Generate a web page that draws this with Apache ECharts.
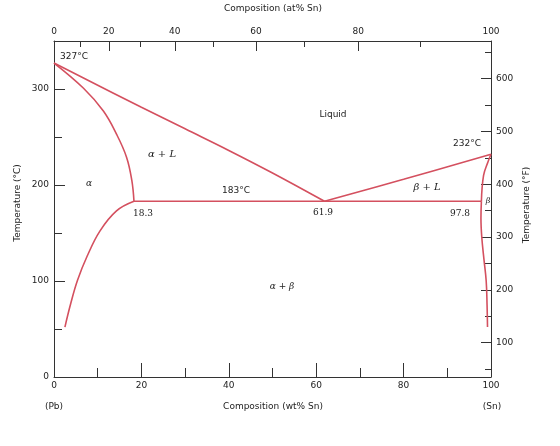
<!DOCTYPE html>
<html>
<head>
<meta charset="utf-8">
<script src="https://cdn.jsdelivr.net/npm/echarts@6/dist/echarts.min.js"></script>
<style>
html,body{margin:0;padding:0;background:#fff}
#chart{width:560px;height:446px}
</style>
</head>
<body>
<div id="chart"></div>
<script>
// 各条相线: [wt% Sn, °C]
const liquidusPb = [[0,327],[20,281],[30,258.5],[40,236],[50,212.5],[61.9,183]]
const liquidusSn = [[61.9,183],[80,206],[100,232]]
const solidusAlpha = [[0,327],[6.7,301],[11.3,277],[14.3,253],[16.6,229],[17.8,205],[18.3,183]]
const solvusAlpha = [[18.3,183],[14.3,173],[10.5,152],[7.6,126],[5.4,101],[3.8,76],[2.5,52]]
const eutectic = [[18.3,183],[61.9,183],[97.8,183]]
const solidusBeta = [[100,232],[99.3,224],[98.3,210],[97.8,183]]
const solvusBeta = [[97.8,183],[97.7,165],[97.9,145],[98.4,122],[98.9,100],[99.1,75],[99.2,52]]

// 刻度
const cTicks = [0,100,200,300]
const cMinorTicks = [50,150,250]
const fTicks = [100,200,300,400,500,600]
const fMinorTicks = [50,150,250,350,450,550,650]
const atTicks = [0,20,40,60,80,100]
const atMinorTicks = [10,30,50,70,90]

const MSn = 118.71, MPb = 207.2
const atToWt = a => 100 * a * MSn / (a * MSn + (100 - a) * MPb)
const wtToAt = w => 100 * (w / MSn) / (w / MSn + (100 - w) / MPb)

const FONT = 'DejaVu Sans'
const AX = '#333'
const RED = '#d4505f'

const gridBox = {left:54, top:41, right:69, bottom:69}
const lbl = {color:'#222', fontSize:9, fontFamily:FONT}

function line(data){
  return {
    type:'line', data, xAxisIndex:0, yAxisIndex:0,
    showSymbol:false, smooth:0.4, silent:true,
    lineStyle:{color:RED, width:1.6}
  }
}
function text(x, y, t, opt){
  return {type:'text', x, y, silent:true, style:Object.assign({
    text:t, fill:'#222', font:'9px "DejaVu Sans"', textVerticalAlign:'middle'
  }, opt || {})}
}

let myChart = echarts.init(document.getElementById('chart'))
myChart.setOption({
  animation:false,
  grid:[gridBox, gridBox, gridBox],
  xAxis:[
    {
      gridIndex:0, type:'value', position:'bottom', min:0, max:100, interval:20,
      axisLine:{onZero:false, lineStyle:{color:AX, width:1}},
      axisTick:{inside:true, length:14, lineStyle:{color:AX}},
      minorTick:{show:true, splitNumber:2, length:9, lineStyle:{color:AX}},
      axisLabel:Object.assign({margin:4}, lbl),
      splitLine:{show:false}
    },
    {
      gridIndex:1, type:'value', position:'top', min:0, max:100,
      axisLine:{onZero:false, lineStyle:{color:AX, width:1}},
      axisTick:{inside:true, length:10, customValues:atTicks.map(atToWt), lineStyle:{color:AX}},
      axisLabel:Object.assign({margin:5, customValues:atTicks.map(atToWt),
        formatter:v => String(Math.round(wtToAt(v)))}, lbl),
      splitLine:{show:false}
    },
    {
      gridIndex:2, type:'value', position:'top', min:0, max:100,
      axisLine:{show:false, onZero:false},
      axisTick:{inside:true, length:6, customValues:atMinorTicks.map(atToWt), lineStyle:{color:AX}},
      axisLabel:{show:false},
      splitLine:{show:false}
    }
  ],
  yAxis:[
    {
      gridIndex:0, type:'value', position:'left', min:0, max:350,
      axisLine:{show:true, onZero:false, lineStyle:{color:AX, width:1}},
      axisTick:{show:true, inside:true, length:11, customValues:cTicks, lineStyle:{color:AX}},
      axisLabel:Object.assign({margin:5, customValues:cTicks}, lbl),
      splitLine:{show:false}
    },
    {
      gridIndex:1, type:'value', position:'right', min:35, max:671,
      axisLine:{show:true, onZero:false, lineStyle:{color:AX, width:1}},
      axisTick:{show:true, inside:true, length:10, customValues:fTicks, lineStyle:{color:AX}},
      axisLabel:Object.assign({margin:5, customValues:fTicks}, lbl),
      splitLine:{show:false}
    },
    {
      gridIndex:1, type:'value', position:'left', min:0, max:350,
      axisLine:{show:false, onZero:false},
      axisTick:{show:true, inside:true, length:8, customValues:cMinorTicks, lineStyle:{color:AX}},
      axisLabel:{show:false},
      splitLine:{show:false}
    },
    {
      gridIndex:2, type:'value', position:'right', min:35, max:671,
      axisLine:{show:false, onZero:false},
      axisTick:{show:true, inside:true, length:6, customValues:fMinorTicks, lineStyle:{color:AX}},
      axisLabel:{show:false},
      splitLine:{show:false}
    }
  ],
  series:[
    line(liquidusPb),
    line(liquidusSn),
    line(solidusAlpha),
    line(solvusAlpha),
    Object.assign(line(eutectic), {smooth:false}),
    line(solidusBeta),
    line(solvusBeta)
  ],
  graphic:[
    text(273, 9, 'Composition (at% Sn)', {textAlign:'center'}),
    text(273, 407, 'Composition (wt% Sn)', {textAlign:'center'}),
    text(54, 407, '(Pb)', {textAlign:'center'}),
    text(492, 407, '(Sn)', {textAlign:'center'}),
    {type:'text', x:18, y:203, rotation:Math.PI/2, silent:true,
      style:{text:'Temperature (°C)', fill:'#222', font:'9px "DejaVu Sans"', textAlign:'center', textVerticalAlign:'middle'}},
    {type:'text', x:527, y:205, rotation:Math.PI/2, silent:true,
      style:{text:'Temperature (°F)', fill:'#222', font:'9px "DejaVu Sans"', textAlign:'center', textVerticalAlign:'middle'}},
    text(60, 57, '327°C'),
    text(333, 115, 'Liquid', {textAlign:'center'}),
    text(453, 144, '232°C'),
    text(222, 191, '183°C'),
    text(133, 214, '18.3', {font:'9px "DejaVu Serif"'}),
    text(313, 213, '61.9', {font:'9px "DejaVu Serif"'}),
    text(450, 214, '97.8', {font:'9px "DejaVu Serif"'}),
    text(162, 154, 'α + L', {textAlign:'center', font:'italic 10px "DejaVu Serif"'}),
    text(89, 184, 'α', {textAlign:'center', font:'italic 9px "DejaVu Serif"'}),
    text(427, 187, 'β + L', {textAlign:'center', font:'italic 10px "DejaVu Serif"'}),
    text(488, 201, 'β', {textAlign:'center', font:'italic 8px "DejaVu Serif"'}),
    text(282, 287, 'α + β', {textAlign:'center', font:'italic 9px "DejaVu Serif"'})
  ]
})
</script>
</body>
</html>
